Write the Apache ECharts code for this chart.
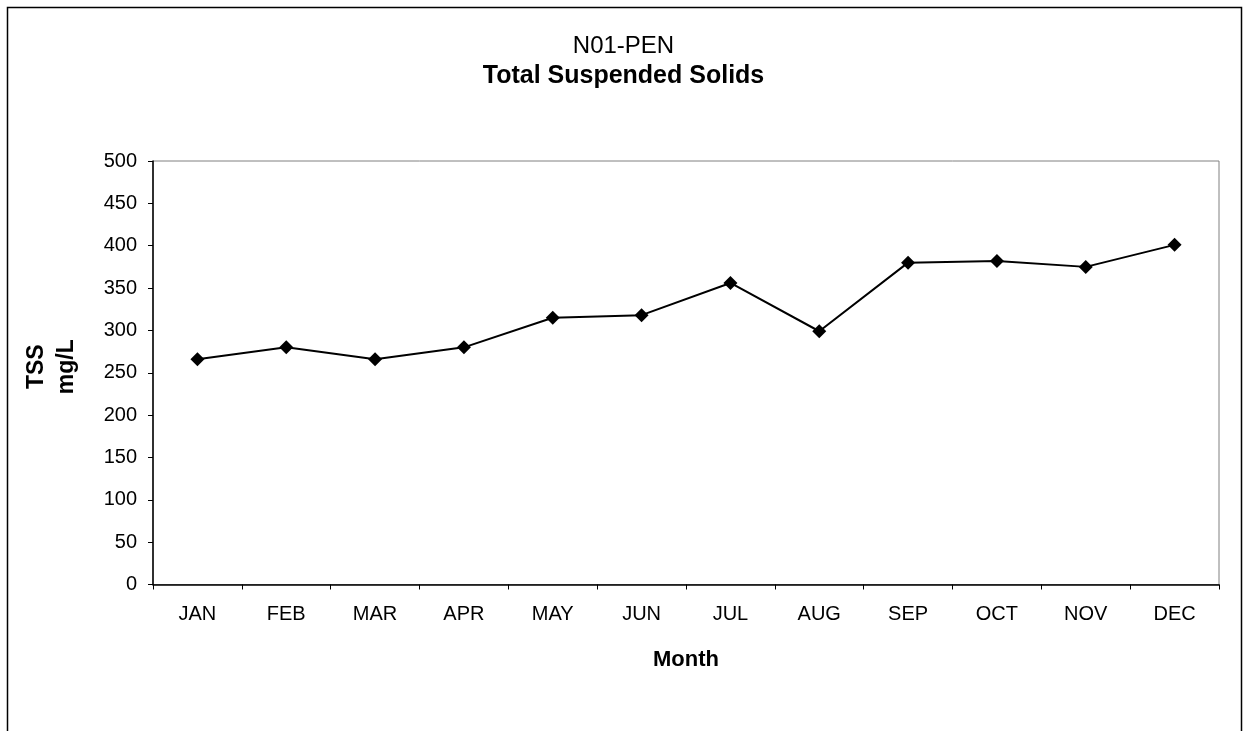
<!DOCTYPE html>
<html>
<head>
<meta charset="utf-8">
<script src="https://cdn.jsdelivr.net/npm/echarts@6/dist/echarts.min.js"></script>
<style>
  html, body { margin: 0; padding: 0; background: #fff; }
  #chart { width: 1247px; height: 731px; }
</style>
</head>
<body>
<div id="chart"></div>
<script>
// month categories and monthly TSS (mg/L)
const months = ['JAN', 'FEB', 'MAR', 'APR', 'MAY', 'JUN', 'JUL', 'AUG', 'SEP', 'OCT', 'NOV', 'DEC'];
const tss = [266, 280, 266, 280, 315, 318, 356, 299, 380, 382, 375, 401];
const yTicks = { min: 0, max: 500, step: 50 };

const font = 'Liberation Sans, Arial, sans-serif';
const chart = echarts.init(document.getElementById('chart'));

const option = {
  animation: false,
  backgroundColor: '#fff',
  title: {
    left: 'center',
    top: 29,
    text: 'N01-PEN',
    textStyle: { fontFamily: font, fontSize: 24, fontWeight: 'normal', color: '#000' },
    subtext: 'Total Suspended Solids',
    subtextStyle: { fontFamily: font, fontSize: 25, fontWeight: 'bold', color: '#000' },
    itemGap: 6
  },
  graphic: [{
    type: 'rect',
    shape: { x: 7.5, y: 7.5, width: 1234, height: 800 },
    style: { fill: 'none', stroke: '#000', lineWidth: 1.5 },
    silent: true
  }],
  grid: {
    left: 153, right: 28, top: 161, bottom: 146.5,
    show: true, borderColor: '#808080', borderWidth: 1
  },
  xAxis: {
    type: 'category',
    data: months,
    boundaryGap: true,
    name: 'Month',
    nameLocation: 'middle',
    nameGap: 64,
    nameTextStyle: { fontFamily: font, fontSize: 22, fontWeight: 'bold', color: '#000' },
    axisLine: { lineStyle: { color: '#000', width: 1.5 } },
    axisTick: { show: true, length: 5, lineStyle: { color: '#000' } },
    axisLabel: { margin: 20, fontFamily: font, fontSize: 20, color: '#000' },
    splitLine: { show: false }
  },
  yAxis: {
    type: 'value',
    min: yTicks.min,
    max: yTicks.max,
    interval: yTicks.step,
    name: 'TSS\nmg/L',
    nameLocation: 'middle',
    nameRotate: 90,
    nameGap: 71,
    nameTextStyle: {
      fontFamily: font, fontSize: 23, fontWeight: 'bold', color: '#000',
      lineHeight: 30, padding: [0, 0, 0, 12]
    },
    axisLine: { show: true, lineStyle: { color: '#000', width: 1.5 } },
    axisTick: { show: true, length: 5, lineStyle: { color: '#000' } },
    axisLabel: { margin: 16, fontFamily: font, fontSize: 20, color: '#000' },
    splitLine: { show: false }
  },
  series: [{
    type: 'line',
    data: tss,
    symbol: 'diamond',
    symbolSize: 14,
    lineStyle: { color: '#000', width: 2 },
    itemStyle: { color: '#000' }
  }]
};

chart.setOption(option);
</script>
</body>
</html>
